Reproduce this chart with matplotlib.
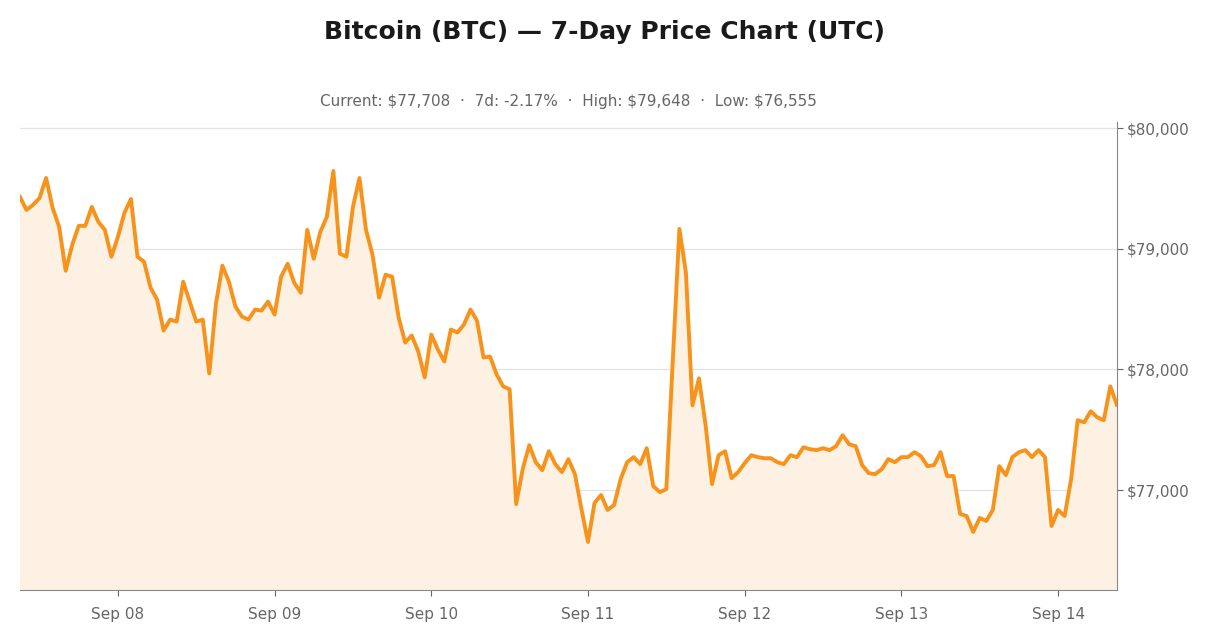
import matplotlib
matplotlib.use("Agg")
import matplotlib.pyplot as plt
import matplotlib.dates as mdates
import matplotlib.ticker as mticker
import pandas as pd

start_time = "2025-09-07 09:00"
prices = [79430,79322,79364,79421,79587,79339,79182,78818,79033,79190,79190,79347,79223,79157,78934,79099,79298,79413,
78934,78893,78678,78579,78322,78413,78397,78727,78562,78397,78413,77967,78537,78860,78727,78521,78438,78413,78496,78488,
78562,78455,78769,78876,78719,78636,79157,78917,79140,79264,79645,78959,78934,79347,79587,79157,78950,78595,78785,78769,
78430,78223,78281,78149,77934,78289,78165,78066,78331,78306,78372,78496,78405,78099,78107,77959,77860,77835,76884,77174,
77372,77231,77165,77322,77215,77149,77256,77132,76843,76570,76893,76959,76835,76876,77091,77231,77273,77215,77347,77033,
76983,77008,78083,79165,78802,77702,77926,77545,77050,77289,77322,77099,77149,77223,77289,77273,77264,77264,77231,77215,
77289,77273,77355,77339,77331,77347,77331,77364,77455,77380,77364,77207,77140,77132,77174,77256,77231,77273,77273,77314,
77281,77198,77207,77314,77116,77116,76802,76785,76653,76769,76744,76835,77198,77124,77273,77314,77331,77273,77331,77273,
76702,76835,76785,77091,77579,77562,77653,77603,77579,77860,77708]
yticks = [77000, 78000, 79000, 80000]
title = "Bitcoin (BTC) — 7-Day Price Chart (UTC)"
subtitle = "Current: $77,708  ·  7d: -2.17%  ·  High: $79,648  ·  Low: $76,555"

times = pd.date_range(start_time, periods=len(prices), freq="h")

fig = plt.figure(figsize=(12.1, 6.36), dpi=100)
ax = fig.add_axes([0.0165, 0.072, 0.9065, 0.736])
ax.fill_between(times, prices, 76170, color="#fdf1e4", zorder=1)
ax.plot(times, prices, color="#f7931a", lw=2.8, zorder=3)
ax.set_xlim(times[0], times[-1])
ax.set_ylim(76170, 80050)
ax.yaxis.tick_right()
ax.set_yticks(yticks)
ax.yaxis.set_major_formatter(mticker.FuncFormatter(lambda v, p: f"${v:,.0f}"))
ax.xaxis.set_major_locator(mdates.DayLocator())
ax.xaxis.set_major_formatter(mdates.DateFormatter("%b %d"))
ax.grid(axis="y", color="#e3e3e3", lw=0.9, zorder=0)
ax.set_axisbelow(True)
for s in ["top", "left"]:
    ax.spines[s].set_visible(False)
for s in ["right", "bottom"]:
    ax.spines[s].set_color("#888888")
ax.tick_params(colors="#666666", labelsize=11, length=4)
ax.tick_params(axis="x", pad=8)
fig.text(0.5, 0.95, title, ha="center", va="center", fontsize=18, fontweight="bold", color="#1a1a1a")
fig.text(0.47, 0.841, subtitle, ha="center", va="center", fontsize=11, color="#666666")
fig.savefig("out.png", dpi=100, facecolor="white")
